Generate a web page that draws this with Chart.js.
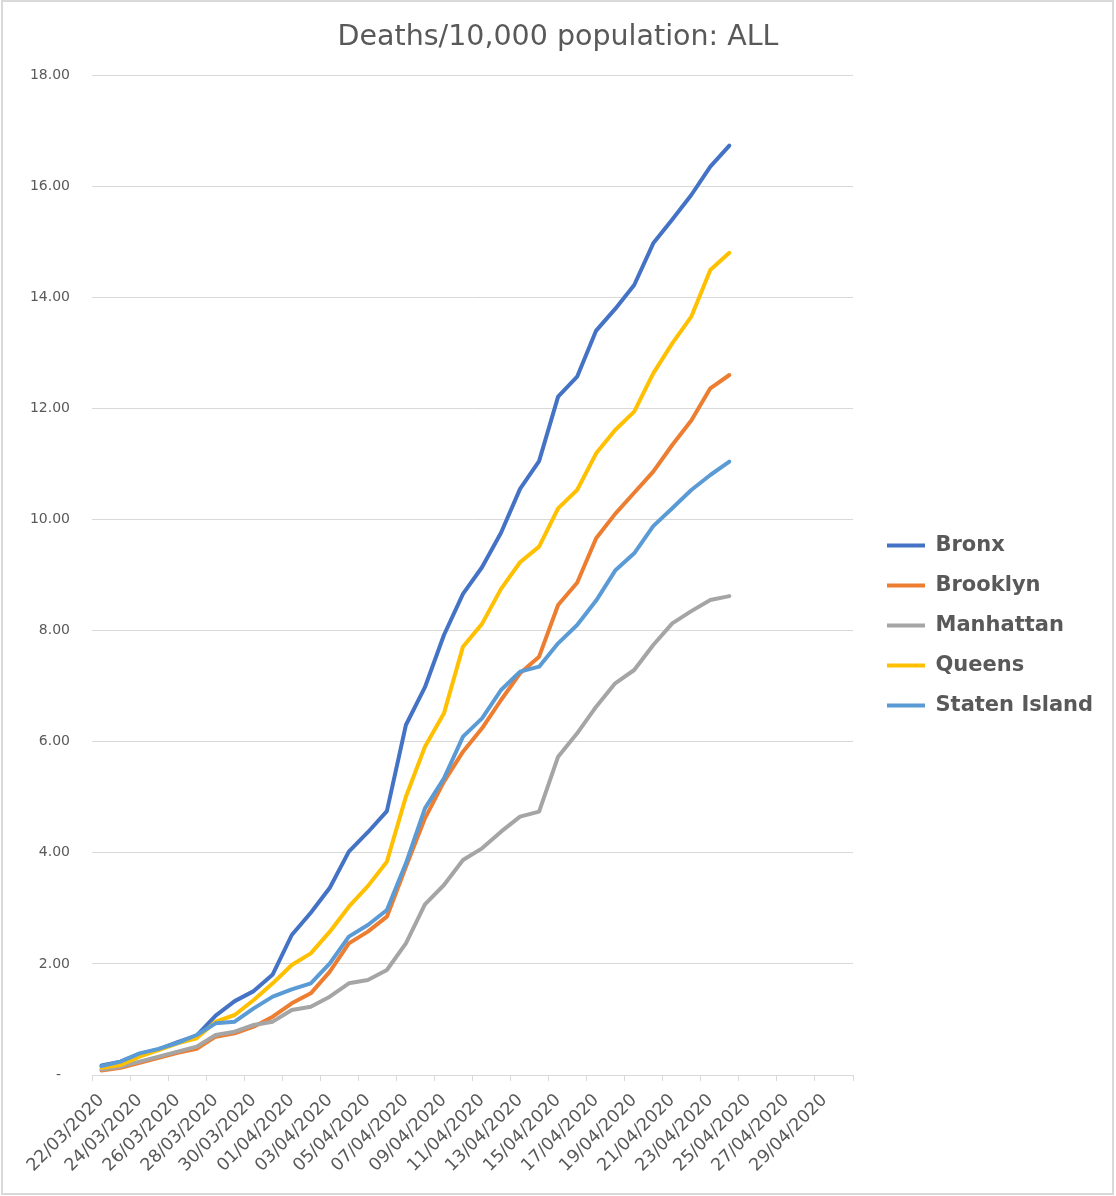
<!DOCTYPE html>
<html>
<head>
<meta charset="utf-8">
<script src="https://cdn.jsdelivr.net/npm/chart.js@4.4.1/dist/chart.umd.min.js"></script>
<style>
html,body{margin:0;padding:0;background:#fff;}
#wrap{position:relative;width:1116px;height:1196px;}
#c{display:block;}
#frame{position:absolute;left:1px;top:0;width:1113px;height:1195px;border:2px solid #d9d9d9;box-sizing:border-box;pointer-events:none;}
</style>
</head>
<body>
<div id="wrap"><canvas id="c" width="1116" height="1196"></canvas><div id="frame"></div></div>
<script>
const categories = [
  '22/03/2020','23/03/2020','24/03/2020','25/03/2020','26/03/2020','27/03/2020','28/03/2020','29/03/2020',
  '30/03/2020','31/03/2020','01/04/2020','02/04/2020','03/04/2020','04/04/2020','05/04/2020','06/04/2020',
  '07/04/2020','08/04/2020','09/04/2020','10/04/2020','11/04/2020','12/04/2020','13/04/2020','14/04/2020',
  '15/04/2020','16/04/2020','17/04/2020','18/04/2020','19/04/2020','20/04/2020','21/04/2020','22/04/2020',
  '23/04/2020','24/04/2020','25/04/2020','26/04/2020','27/04/2020','28/04/2020','29/04/2020','30/04/2020'
];
const bronx = [0.17,0.24,0.38,0.46,0.59,0.71,1.07,1.33,1.51,1.81,2.52,2.92,3.37,4.02,4.37,4.75,6.30,6.98,7.92,8.66,9.14,9.76,10.55,11.05,12.21,12.57,13.40,13.79,14.22,14.97,15.40,15.84,16.35,16.73];
const brooklyn = [0.08,0.13,0.22,0.31,0.40,0.47,0.69,0.75,0.87,1.05,1.29,1.47,1.86,2.37,2.58,2.85,3.75,4.62,5.28,5.82,6.24,6.75,7.23,7.53,8.46,8.86,9.66,10.10,10.48,10.86,11.34,11.78,12.36,12.60];
const manhattan = [0.10,0.15,0.24,0.33,0.42,0.51,0.72,0.78,0.90,0.96,1.17,1.23,1.41,1.65,1.71,1.89,2.37,3.07,3.42,3.87,4.08,4.38,4.65,4.74,5.73,6.15,6.63,7.05,7.29,7.74,8.13,8.35,8.55,8.62];
const queens = [0.13,0.18,0.33,0.45,0.57,0.66,0.96,1.08,1.35,1.65,1.98,2.19,2.58,3.03,3.40,3.84,5.01,5.91,6.51,7.71,8.12,8.75,9.23,9.51,10.20,10.53,11.19,11.61,11.94,12.63,13.17,13.65,14.49,14.80];
const statenIsland = [0.16,0.24,0.39,0.47,0.58,0.72,0.93,0.96,1.20,1.41,1.54,1.65,2.01,2.49,2.70,2.97,3.81,4.80,5.34,6.09,6.42,6.93,7.26,7.35,7.77,8.10,8.54,9.08,9.39,9.88,10.20,10.53,10.80,11.04];

const seriesNames = ['Bronx','Brooklyn','Manhattan','Queens','Staten Island'];
const seriesData = [bronx, brooklyn, manhattan, queens, statenIsland];
const seriesColors = ['#4472C4','#ED7D31','#A5A5A5','#FFC000','#5B9BD5'];
const titleText = 'Deaths/10,000 population: ALL';

const TEXT = '#595959', GRID = '#d9d9d9';
const FAMILY = '"DejaVu Sans"';
const legendSize = 21, boxW = 38, legPad = 19, gap = 15, plotRight = 853, plotLeft = 92;
const mctx = document.createElement('canvas').getContext('2d');
mctx.font = 'bold ' + legendSize + 'px ' + FAMILY;
const maxText = Math.max(...seriesNames.map(n => mctx.measureText(n).width));
const legendW = legPad + boxW + legendSize / 2 + maxText + 10;
const padSide = Math.max(0, 1116 - plotRight - gap - legendW);

const datasets = seriesNames.map((name, i) => ({
  label: name,
  data: seriesData[i],
  borderColor: seriesColors[i],
  backgroundColor: seriesColors[i],
  borderWidth: 4,
  pointRadius: 0,
  tension: 0,
  fill: false,
  borderJoinStyle: 'round',
  borderCapStyle: 'round',
  order: seriesNames.length - i
}));

new Chart(document.getElementById('c'), {
  type: 'line',
  data: { labels: categories, datasets },
  options: {
    responsive: false,
    animation: false,
    devicePixelRatio: 1,
    layout: { padding: { left: padSide, top: 0, right: padSide, bottom: 23 } },
    plugins: {
      title: {
        display: true, text: titleText, color: TEXT,
        font: { family: FAMILY, size: 28.5, weight: 'normal' },
        padding: { top: 20, bottom: 20.8 }
      },
      legend: {
        position: 'right', align: 'center', maxWidth: 600,
        title: { display: true, text: ' ', font: { size: 10 }, padding: { top: 66, bottom: 0 } },
        labels: {
          boxWidth: boxW, boxHeight: 4, padding: legPad, color: TEXT,
          font: { family: FAMILY, size: legendSize, weight: 'bold' },
          sort: (a, b) => a.datasetIndex - b.datasetIndex,
          generateLabels: (chart) => {
            const items = Chart.defaults.plugins.legend.labels.generateLabels(chart);
            items.forEach(it => { it.fillStyle = it.strokeStyle; it.lineWidth = 0; });
            return items;
          }
        }
      },
      tooltip: { enabled: false }
    },
    scales: {
      x: {
        type: 'category', offset: true,
        grid: {
          offset: true, drawOnChartArea: false, drawTicks: true, tickLength: 6, lineWidth: 1,
          color: (ctx) => (ctx.type !== 'tick' || ctx.index % 2 === 0) ? GRID : 'rgba(0,0,0,0)'
        },
        border: { display: true, color: GRID, width: 1 },
        ticks: {
          autoSkip: false, maxRotation: 45, minRotation: 45, padding: 9, color: TEXT,
          font: { family: FAMILY, size: 17.5 },
          callback: function (v, i) { return i % 2 === 0 ? this.getLabelForValue(v) : ''; }
        },
        afterFit: (s) => { s.height = 98; }
      },
      y: {
        position: 'left', min: 0, max: 18,
        grid: { color: GRID, lineWidth: 1, drawTicks: false },
        border: { display: false },
        ticks: {
          stepSize: 2, padding: 22, color: TEXT,
          font: { family: FAMILY, size: 14 },
          callback: (v) => v === 0 ? '-  ' : Number(v).toFixed(2)
        },
        afterFit: (s) => { s.width = plotLeft - padSide; }
      },
      y2: {
        type: 'linear', position: 'right', display: true,
        grid: { display: false, drawTicks: false },
        border: { display: false },
        ticks: { display: false },
        afterFit: (s) => { s.width = gap; }
      }
    }
  }
});
</script>
</body>
</html>
